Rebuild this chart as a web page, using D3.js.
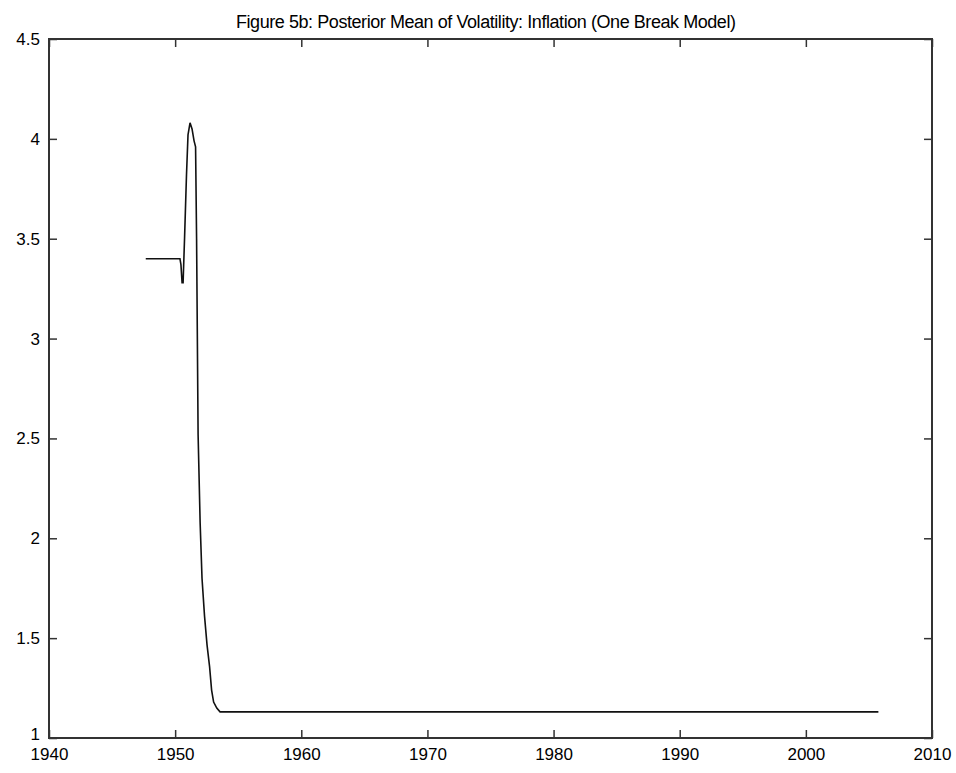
<!DOCTYPE html>
<html>
<head>
<meta charset="utf-8">
<script src="https://cdn.jsdelivr.net/npm/d3@7"></script>
<style>
  html, body { margin: 0; padding: 0; background: #fff; }
  text { font-family: "Liberation Sans", Arial, sans-serif; fill: #000; }
</style>
</head>
<body>
<div id="chart"></div>
<script>
// Datos: media posterior de la volatilidad (inflación, modelo de un quiebre)
const years = [1947.67, 1950.38, 1950.46, 1950.55, 1950.63, 1950.75, 1950.90, 1951.02, 1951.18,
  1951.34, 1951.50, 1951.62, 1951.70, 1951.82, 1951.98, 1952.13, 1952.33, 1952.53,
  1952.73, 1952.89, 1953.05, 1953.30, 1953.56, 2005.75];
const values = [3.40, 3.40, 3.37, 3.28, 3.28, 3.51, 3.82, 4.02, 4.08,
  4.05, 3.99, 3.96, 3.50, 2.52, 2.08, 1.80, 1.61, 1.465,
  1.357, 1.24, 1.18, 1.15, 1.131, 1.131];

const xTicks = [1940, 1950, 1960, 1970, 1980, 1990, 2000, 2010];
const yTicks = [1, 1.5, 2, 2.5, 3, 3.5, 4, 4.5];
const yTickLabels = ["1", "1.5", "2", "2.5", "3", "3.5", "4", "4.5"];
const titleText = "Figure 5b: Posterior Mean of Volatility: Inflation (One Break Model)";

const W = 956, H = 773;
const plot = { left: 49, top: 39, right: 932, bottom: 738 };

const svg = d3.select("#chart")
  .append("svg")
  .attr("width", W)
  .attr("height", H)
  .attr("viewBox", `0 0 ${W} ${H}`);

const x = d3.scaleLinear().domain([1940, 2010]).range([plot.left, plot.right]);
const y = d3.scaleLinear().domain([1, 4.5]).range([plot.bottom, plot.top]);

const tickLen = 8;
const axisColor = "#333";

// Ejes (ticks hacia adentro, en los cuatro lados)
const gx = svg.append("g")
  .attr("transform", `translate(0,${plot.bottom})`)
  .call(d3.axisBottom(x).tickValues(xTicks).tickFormat(d3.format("d"))
    .tickSizeInner(-tickLen).tickSizeOuter(0).tickPadding(10));

const gxTop = svg.append("g")
  .attr("transform", `translate(0,${plot.top})`)
  .call(d3.axisTop(x).tickValues(xTicks).tickFormat("")
    .tickSizeInner(-tickLen).tickSizeOuter(0));

const gy = svg.append("g")
  .attr("transform", `translate(${plot.left},0)`)
  .call(d3.axisLeft(y).tickValues(yTicks).tickFormat((d, i) => yTickLabels[i])
    .tickSizeInner(-tickLen).tickSizeOuter(0).tickPadding(9));

const gyRight = svg.append("g")
  .attr("transform", `translate(${plot.right},0)`)
  .call(d3.axisRight(y).tickValues(yTicks).tickFormat("")
    .tickSizeInner(-tickLen).tickSizeOuter(0));

[gx, gxTop, gy, gyRight].forEach(g => {
  g.select(".domain").remove();
  g.selectAll(".tick line").attr("stroke", axisColor).attr("stroke-width", 1.5);
  g.selectAll(".tick text")
    .attr("font-family", "Liberation Sans, Arial, sans-serif")
    .attr("font-size", 17)
    .attr("fill", "#000");
});

// la etiqueta "1" queda justo encima de "1940", como en el original
gy.selectAll(".tick text").filter(d => d === 1).attr("dy", "0.1em");

// Marco
svg.append("rect")
  .attr("x", plot.left)
  .attr("y", plot.top)
  .attr("width", plot.right - plot.left)
  .attr("height", plot.bottom - plot.top)
  .attr("fill", "none")
  .attr("stroke", axisColor)
  .attr("stroke-width", 2);

// Serie
const line = d3.line()
  .x((d, i) => x(years[i]))
  .y(d => y(d));

svg.append("path")
  .datum(values)
  .attr("d", line)
  .attr("fill", "none")
  .attr("stroke", "#111")
  .attr("stroke-width", 1.6);

// Título
svg.append("text")
  .attr("x", 486)
  .attr("y", 28)
  .attr("text-anchor", "middle")
  .attr("font-size", 18)
  .attr("textLength", 500)
  .attr("lengthAdjust", "spacing")
  .text(titleText);
</script>
</body>
</html>
